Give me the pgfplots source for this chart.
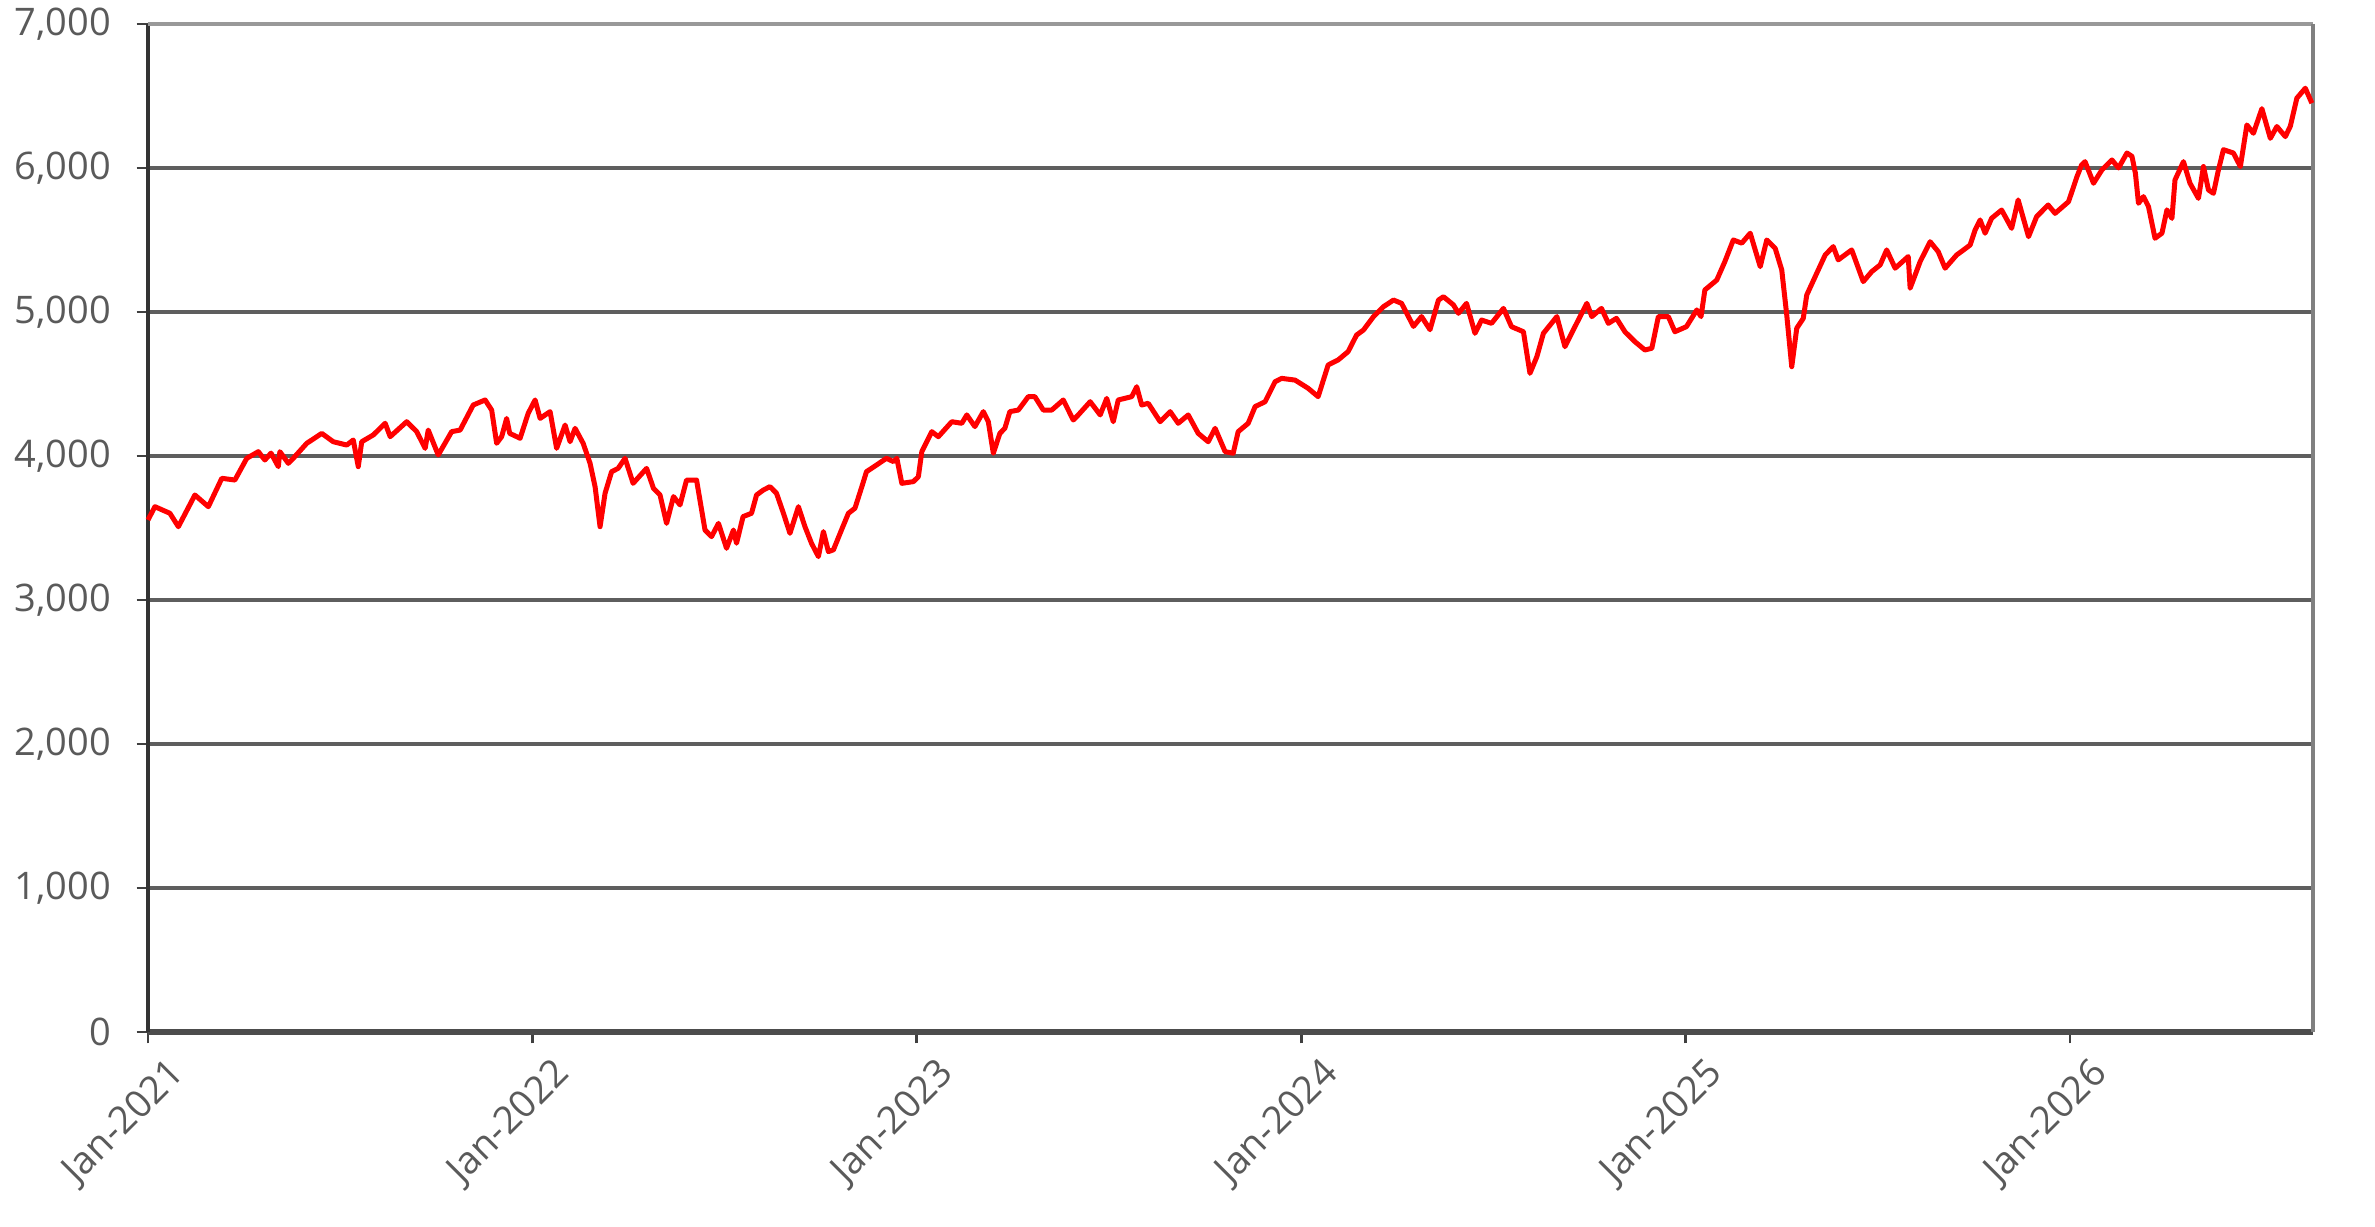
\documentclass[border=0pt]{standalone}
\usepackage{fontspec}
\setmainfont{Open Sans}
\usepackage{pgfplots}
\pgfplotsset{compat=1.18}
\definecolor{lblgray}{HTML}{5A5A5A}
\definecolor{gridgray}{HTML}{5E5E5E}
\begin{document}
\fontsize{11.4}{13.5}\selectfont
\begin{tikzpicture}
\useasboundingbox (0,0) rectangle (712.5pt,368.1pt);
\begin{axis}[
  at={(44.4pt,58.5pt)}, anchor=south west,
  scale only axis, width=649.5pt, height=302.4pt,
  xmin=0, xmax=5.632, ymin=0, ymax=7000,
  axis x line*=bottom, axis y line*=left,
  x axis line style={draw=black!70, line width=1.6pt},
  y axis line style={draw=black!80, line width=1.1pt},
  tick align=outside, major tick length=3.4pt,
  tick style={draw=black!75, line width=0.8pt},
  xtick={0,1,2,3,4,5},
  xticklabels={Jan-2021,Jan-2022,Jan-2023,Jan-2024,Jan-2025,Jan-2026},
  ytick={0,1000,...,7000},
  ymajorgrids,
  major grid style={draw=gridgray, line width=1.0pt},
  /pgf/number format/.cd, 1000 sep={,}, assume math mode=true,
  /pgfplots/.cd,
  yticklabel style={text=lblgray, font=\fontsize{11.4}{13.5}\selectfont, anchor=east, inner sep=0pt, xshift=-7.5pt},
  xticklabel style={text=lblgray, font=\fontsize{11.4}{13.5}\selectfont, rotate=45, anchor=north east, inner sep=0pt, xshift=1.5pt, yshift=-6.5pt},
  clip=false,
]
\draw[draw=black!40, line width=1.0pt] (rel axis cs:0,1) -- (rel axis cs:1,1);
\draw[draw=black!50, line width=1.0pt] (rel axis cs:1,1) -- (rel axis cs:1,0);
\addplot[draw=red, line width=1.5pt, line join=round] coordinates {
(0.000,3556)(0.018,3648)(0.057,3602)(0.079,3509)(0.122,3729)(0.157,3648)(0.192,3845)(0.226,3833)(0.257,3984)(0.287,4030)(0.304,3972)(0.320,4020)(0.339,3926)(0.343,4030)(0.365,3949)(0.378,3984)(0.413,4088)(0.452,4157)(0.482,4099)(0.517,4076)(0.534,4111)(0.547,3926)(0.556,4099)(0.586,4146)(0.617,4227)(0.630,4134)(0.673,4238)(0.699,4169)(0.721,4053)(0.729,4180)(0.755,4007)(0.790,4169)(0.812,4180)(0.846,4354)(0.877,4389)(0.894,4319)(0.907,4088)(0.920,4134)(0.933,4261)(0.941,4157)(0.968,4123)(0.989,4296)
(1.007,4389)(1.020,4261)(1.046,4308)(1.063,4053)(1.085,4215)(1.098,4099)(1.111,4192)(1.132,4088)(1.150,3949)(1.163,3787)(1.176,3509)(1.189,3741)(1.206,3891)(1.223,3914)(1.241,3984)(1.262,3810)(1.297,3914)(1.315,3775)(1.332,3729)(1.349,3532)(1.367,3718)(1.384,3660)(1.401,3833)(1.427,3833)(1.449,3486)(1.466,3440)(1.484,3532)(1.505,3359)(1.523,3486)(1.531,3394)(1.548,3579)(1.570,3602)(1.583,3729)(1.601,3764)(1.618,3787)(1.635,3741)(1.653,3602)(1.670,3463)(1.692,3648)(1.709,3509)(1.726,3394)(1.744,3301)(1.757,3475)(1.770,3336)(1.783,3348)(1.804,3486)(1.822,3602)(1.839,3637)(1.857,3787)(1.869,3891)(1.895,3937)(1.921,3984)(1.939,3961)(1.948,3984)(1.961,3810)(1.991,3822)
(2.004,3856)(2.013,4030)(2.039,4169)(2.056,4134)(2.091,4238)(2.117,4227)(2.130,4285)(2.151,4204)(2.173,4308)(2.186,4238)(2.199,4019)(2.216,4157)(2.229,4192)(2.242,4308)(2.264,4319)(2.290,4412)(2.307,4412)(2.329,4319)(2.351,4319)(2.381,4389)(2.407,4250)(2.420,4285)(2.451,4377)(2.477,4285)(2.494,4400)(2.511,4238)(2.524,4389)(2.559,4412)(2.572,4481)(2.585,4354)(2.602,4366)(2.633,4238)(2.659,4308)(2.680,4227)(2.706,4285)(2.732,4157)(2.758,4099)(2.776,4192)(2.802,4030)(2.823,4019)(2.836,4169)(2.862,4227)(2.880,4343)(2.906,4377)(2.932,4516)(2.949,4539)(2.984,4527)
(3.018,4470)(3.044,4412)(3.070,4632)(3.096,4667)(3.122,4725)(3.144,4840)(3.162,4875)(3.188,4968)(3.214,5037)(3.240,5083)(3.261,5060)(3.292,4900)(3.313,4968)(3.335,4877)(3.357,5083)(3.370,5106)(3.396,5049)(3.409,4991)(3.430,5060)(3.452,4852)(3.469,4944)(3.495,4921)(3.526,5025)(3.547,4898)(3.578,4863)(3.595,4574)(3.613,4690)(3.630,4852)(3.665,4968)(3.686,4759)(3.712,4898)(3.743,5060)(3.756,4968)(3.781,5025)(3.799,4921)(3.820,4956)(3.842,4863)(3.868,4794)(3.894,4736)(3.912,4748)(3.929,4968)(3.955,4968)(3.972,4863)
(4.002,4898)(4.029,5014)(4.040,4968)(4.050,5153)(4.081,5222)(4.102,5350)(4.124,5500)(4.146,5478)(4.168,5547)(4.194,5315)(4.211,5500)(4.233,5442)(4.250,5292)(4.263,4979)(4.276,4620)(4.289,4887)(4.306,4956)(4.315,5118)(4.341,5269)(4.363,5396)(4.384,5454)(4.397,5362)(4.432,5431)(4.462,5211)(4.484,5280)(4.506,5327)(4.523,5431)(4.545,5304)(4.579,5385)(4.584,5165)(4.610,5350)(4.636,5488)(4.657,5419)(4.675,5304)(4.705,5396)(4.723,5431)(4.740,5465)(4.753,5569)(4.766,5639)(4.779,5547)(4.796,5651)(4.822,5708)(4.848,5581)(4.865,5778)(4.892,5523)(4.913,5662)(4.943,5743)(4.961,5685)(4.996,5766)
(5.018,5940)(5.030,6021)(5.039,6044)(5.061,5894)(5.083,5987)(5.109,6056)(5.126,6000)(5.148,6104)(5.161,6081)(5.170,5963)(5.178,5755)(5.191,5801)(5.204,5732)(5.221,5512)(5.239,5547)(5.252,5709)(5.265,5650)(5.273,5917)(5.295,6044)(5.312,5894)(5.334,5789)(5.347,6010)(5.360,5848)(5.373,5824)(5.386,5987)(5.399,6127)(5.425,6104)(5.443,6010)(5.460,6299)(5.477,6241)(5.499,6412)(5.521,6206)(5.538,6288)(5.560,6218)(5.573,6290)(5.590,6485)(5.612,6554)(5.629,6450)
};
\end{axis}
\end{tikzpicture}
\end{document}
